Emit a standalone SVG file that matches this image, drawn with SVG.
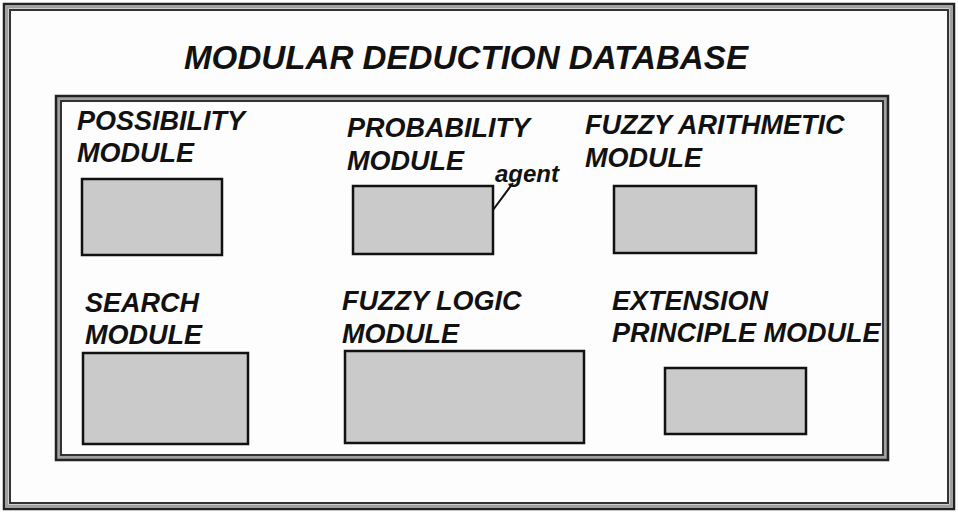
<svg xmlns="http://www.w3.org/2000/svg" width="958" height="512" viewBox="0 0 958 512">
  <style>
    .title { font-family: "Liberation Sans", Arial, sans-serif; font-weight: bold; font-style: italic; font-size: 33px; fill: #111; }
    .label { font-family: "Liberation Sans", Arial, sans-serif; font-weight: bold; font-style: italic; font-size: 27px; fill: #111; }
    .small { font-family: "Liberation Sans", Arial, sans-serif; font-weight: bold; font-style: italic; font-size: 24px; fill: #111; }
    .frame-out { fill: none; stroke: #222; stroke-width: 2.5; }
    .frame-band { fill: none; stroke: #a0a0a0; stroke-width: 3; }
    .frame-in { fill: none; stroke: #333; stroke-width: 2; }
    .module { fill: #cacaca; stroke: #111; stroke-width: 2.5; }
    .connector { stroke: #111; stroke-width: 2; fill: none; }
  </style>

  <rect width="958" height="512" fill="#fdfdfd"/>

  <!-- outer frame (double rule) -->
  <g id="outer-frame">
    <rect class="frame-band" x="7" y="7" width="944" height="499"/>
    <rect class="frame-out" x="4" y="4" width="950" height="505"/>
    <rect class="frame-in" x="10" y="10" width="938" height="493"/>
  </g>

  <text id="title" class="title" x="184" y="69" textLength="564" lengthAdjust="spacingAndGlyphs">MODULAR DEDUCTION DATABASE</text>

  <!-- database container (double rule) -->
  <g id="database">
    <rect class="frame-band" x="58.5" y="98.5" width="827" height="359"/>
    <rect class="frame-out" x="56" y="96" width="832" height="364"/>
    <rect class="frame-in" x="61" y="101" width="822" height="354"/>
  </g>

  <g id="possibility-module">
    <text class="label" x="77" y="130">POSSIBILITY</text>
    <text class="label" x="77" y="162">MODULE</text>
    <rect class="module" x="82" y="179" width="140" height="76"/>
  </g>

  <g id="probability-module">
    <text class="label" x="347" y="137">PROBABILITY</text>
    <text class="label" x="347" y="170">MODULE</text>
    <rect class="module" x="353" y="186" width="140" height="68"/>
  </g>

  <g id="agent">
    <text class="small" x="495" y="182">agent</text>
  </g>

  <g id="fuzzy-arithmetic-module">
    <text class="label" x="585" y="134">FUZZY ARITHMETIC</text>
    <text class="label" x="585" y="167">MODULE</text>
    <rect class="module" x="614" y="186" width="142" height="67"/>
  </g>

  <g id="search-module">
    <text class="label" x="85" y="312">SEARCH</text>
    <text class="label" x="85" y="344">MODULE</text>
    <rect class="module" x="83" y="353" width="165" height="91"/>
  </g>

  <g id="fuzzy-logic-module">
    <text class="label" x="342" y="310">FUZZY LOGIC</text>
    <text class="label" x="342" y="343">MODULE</text>
    <rect class="module" x="345" y="351" width="239" height="92"/>
  </g>

  <g id="extension-principle-module">
    <text class="label" x="612" y="310">EXTENSION</text>
    <text class="label" x="612" y="342">PRINCIPLE MODULE</text>
    <rect class="module" x="665" y="368" width="141" height="66"/>
  </g>

  <g id="connectors">
    <line class="connector" x1="493" y1="210" x2="513" y2="183"/>
  </g>
</svg>
